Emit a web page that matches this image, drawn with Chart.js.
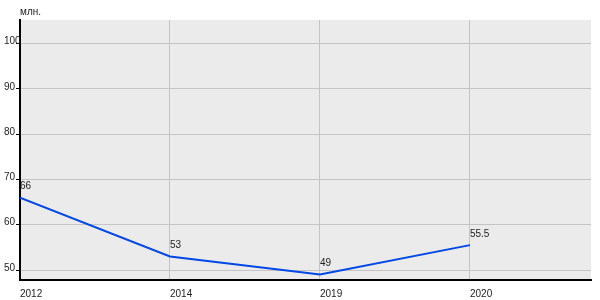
<!DOCTYPE html>
<html>
<head>
<meta charset="utf-8">
<script src="https://cdn.jsdelivr.net/npm/chart.js@4/dist/chart.umd.min.js"></script>
<style>
  html, body { margin: 0; padding: 0; background: #fff; }
  #wrap { width: 600px; height: 300px; }
</style>
</head>
<body>
<div id="wrap"><canvas id="chart"></canvas></div>
<script>
// data
const years = ['2012', '2014', '2019', '2020'];
const values = [66, 53, 49, 55.5];
const yTicks = [50, 60, 70, 80, 90, 100];
const unitLabel = 'млн.';

const font = { family: '"Liberation Sans", Arial, sans-serif', size: 10 };

// grey plot background, unit caption and point value labels
const decor = {
  id: 'decor',
  beforeDraw(chart) {
    const { ctx, chartArea: a } = chart;
    ctx.save();
    ctx.fillStyle = '#ebebeb';
    ctx.fillRect(a.left, a.top, a.right - a.left, a.bottom - a.top);
    ctx.restore();
  },
  afterDatasetsDraw(chart) {
    const { ctx, chartArea: a } = chart;
    ctx.save();
    ctx.font = '10px ' + font.family;
    ctx.fillStyle = '#222';
    ctx.textAlign = 'left';
    ctx.textBaseline = 'bottom';
    chart.getDatasetMeta(0).data.forEach((pt, i) => {
      ctx.fillText(String(values[i]), pt.x, pt.y - 6);
    });
    ctx.textBaseline = 'middle';
    ctx.fillText(unitLabel, a.left, 12);
    ctx.restore();
  }
};

new Chart(document.getElementById('chart'), {
  type: 'line',
  data: {
    datasets: [{
      data: values.map((v, i) => ({ x: i, y: v })),
      borderColor: '#0047e6',
      borderWidth: 2,
      pointRadius: 0,
      tension: 0,
      fill: false
    }]
  },
  options: {
    responsive: true,
    maintainAspectRatio: false,
    animation: false,
    layout: { padding: { left: 4, right: 9, top: 20, bottom: 0 } },
    plugins: { legend: { display: false }, tooltip: { enabled: false } },
    scales: {
      x: {
        type: 'linear',
        min: 0,
        max: 3.807,
        afterBuildTicks(scale) {
          scale.ticks = years.map((y, i) => ({ value: i }));
        },
        afterFit(scale) { scale.height = 20; },
        grid: { color: '#c4c4c4', lineWidth: 1, drawTicks: false },
        border: { color: '#000', width: 2 },
        ticks: {
          align: 'start',
          padding: 8,
          maxRotation: 0,
          autoSkip: false,
          color: '#222',
          font: font,
          callback: (v) => years[v]
        }
      },
      y: {
        min: 47.8,
        max: 105.2,
        afterBuildTicks(scale) {
          scale.ticks = yTicks.map(v => ({ value: v }));
        },
        afterFit(scale) { scale.width = 16; },
        grid: { color: '#c4c4c4', lineWidth: 1, tickLength: 4, tickColor: '#000' },
        border: { color: '#000', width: 2 },
        ticks: {
          crossAlign: 'far',
          labelOffset: -2,
          color: '#222',
          font: font
        }
      }
    }
  },
  plugins: [decor]
});
</script>
</body>
</html>
